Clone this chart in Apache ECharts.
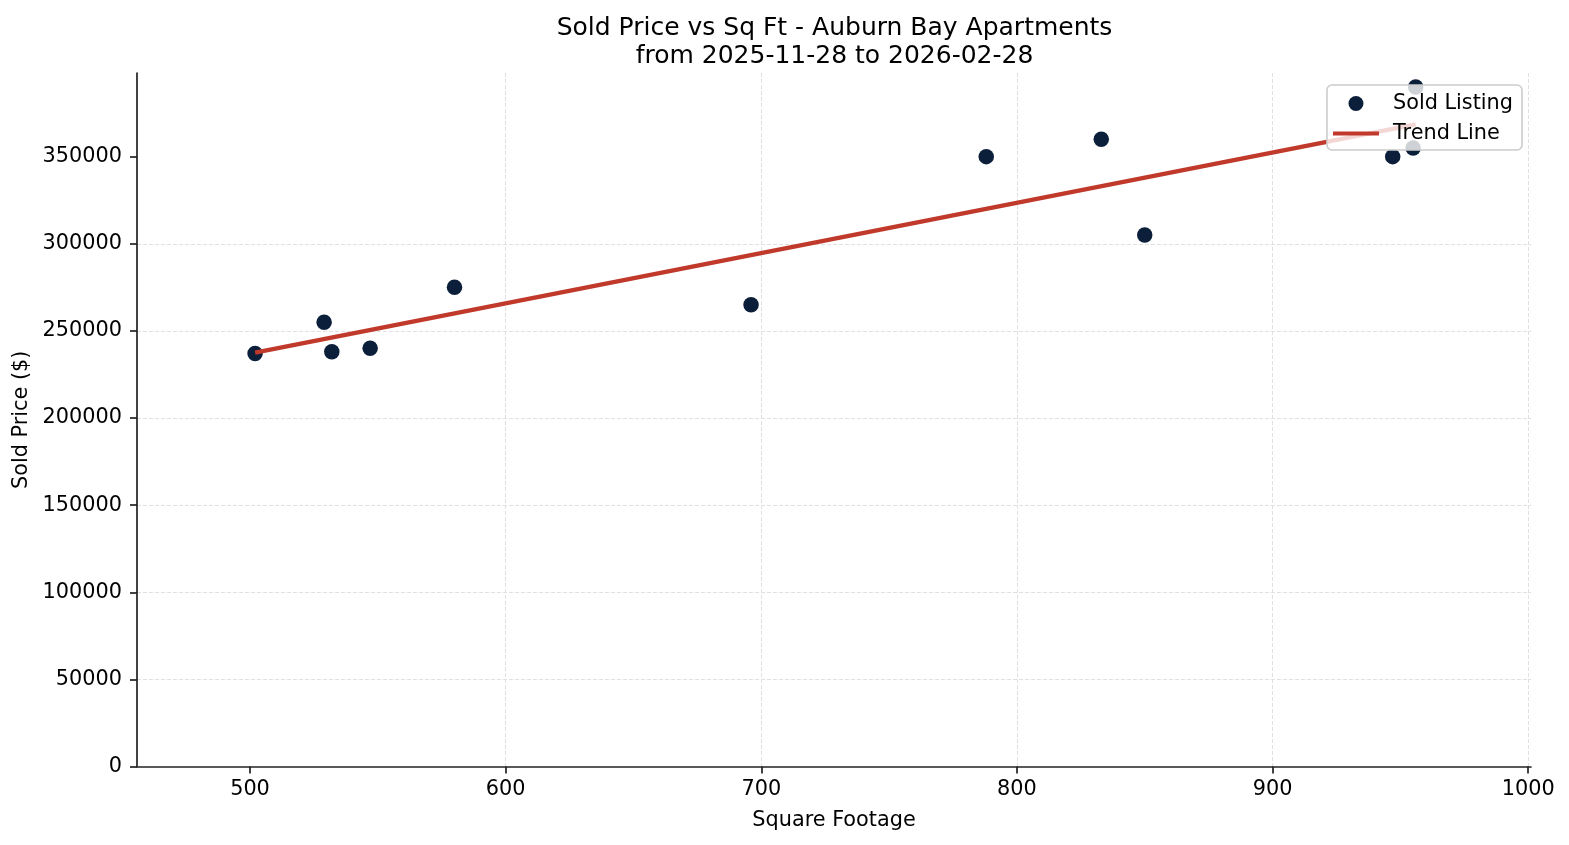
<!DOCTYPE html>
<html>
<head>
<meta charset="utf-8">
<title>Sold Price vs Sq Ft - Auburn Bay Apartments</title>
<script src="https://cdn.jsdelivr.net/npm/echarts@6/dist/echarts.min.js"></script>
<style>
  html, body { margin: 0; padding: 0; background: #fff; }
  #chart { width: 1569px; height: 845px; }
</style>
</head>
<body>
<div id="chart"></div>
<script>
// values
const sqft = [502, 529, 532, 547, 580, 696, 788, 833, 850, 947, 955, 956];
const price = [237000, 255000, 238000, 240000, 275000, 265000, 350000, 360000, 305000, 350000, 355000, 390000];

const trendSqft = [502, 956];
const trendPrice = [237500, 368500];

const xTicks = [500, 600, 700, 800, 900, 1000];
const yTicks = [0, 50000, 100000, 150000, 200000, 250000, 300000, 350000];

const FONT = 'DejaVu Sans';
const AXIS_COLOR = '#222';
const DOT_COLOR = '#0b1f3a';
const TREND_COLOR = '#c0392b';

const chart = echarts.init(document.getElementById('chart'), null, { renderer: 'canvas' });

const axisCommon = {
  type: 'value',
  nameLocation: 'middle',
  nameTextStyle: { fontFamily: FONT, fontSize: 20.8, color: '#000' },
  axisLine: { show: true, lineStyle: { color: AXIS_COLOR, width: 1.7 } },
  axisTick: { show: true, length: 7, lineStyle: { color: AXIS_COLOR, width: 1.7 } },
  splitLine: {
    show: true,
    showMinLine: false,
    lineStyle: { color: '#e0e0e0', width: 1, type: [4, 2] },
  },
};

const plain = v => String(v);

chart.setOption({
  animation: false,
  backgroundColor: '#fff',
  textStyle: { fontFamily: FONT },
  title: {
    text: 'Sold Price vs Sq Ft - Auburn Bay Apartments\nfrom 2025-11-28 to 2026-02-28',
    // centred over the plot area, not the page
    left: 834.5,
    top: 0,
    textAlign: 'center',
    padding: [14.5, 0, 0, 0],
    textStyle: {
      fontFamily: FONT,
      fontSize: 25,
      fontWeight: 'normal',
      lineHeight: 28,
      color: '#000',
    },
  },
  grid: { left: 137, right: 38, top: 73, bottom: 78.5, containLabel: false, outerBoundsMode: 'none' },
  legend: {
    right: 47,
    top: 85,
    orient: 'vertical',
    align: 'left',
    z: 10,
    itemWidth: 46,
    itemHeight: 15,
    itemGap: 9,
    padding: [8, 9, 6, 6],
    backgroundColor: 'rgba(255,255,255,0.8)',
    borderColor: '#cccccc',
    borderWidth: 1.6,
    borderRadius: 5,
    itemStyle: { borderWidth: 0 },
    textStyle: { fontFamily: FONT, fontSize: 20.8, color: '#000', padding: [0, 0, 0, 9] },
    data: [
      { name: 'Sold Listing', icon: 'circle', itemStyle: { color: DOT_COLOR, borderWidth: 0 } },
      { name: 'Trend Line', icon: 'path://M0,0H46V4H0Z', itemStyle: { color: TREND_COLOR, borderWidth: 0 } },
    ],
  },
  xAxis: {
    ...axisCommon,
    name: 'Square Footage',
    nameGap: 44,
    min: 455.8,
    max: 1001.1,
    axisTick: { ...axisCommon.axisTick, customValues: xTicks },
    axisLabel: {
      customValues: xTicks,
      formatter: plain,
      margin: 13,
      fontFamily: FONT,
      fontSize: 20.8,
      color: '#000',
    },
    splitLine: { ...axisCommon.splitLine, showMaxLine: true },
  },
  yAxis: {
    ...axisCommon,
    name: 'Sold Price ($)',
    nameGap: 85.5,
    min: 0,
    max: 398000,
    axisTick: { ...axisCommon.axisTick, customValues: yTicks },
    axisLabel: {
      customValues: yTicks,
      formatter: plain,
      margin: 15,
      fontFamily: FONT,
      fontSize: 20.8,
      color: '#000',
    },
    splitLine: { ...axisCommon.splitLine, showMaxLine: false },
  },
  series: [
    {
      name: 'Sold Listing',
      type: 'scatter',
      z: 2,
      symbol: 'circle',
      symbolSize: 15.5,
      itemStyle: { color: DOT_COLOR, opacity: 1 },
      data: sqft.map((x, i) => [x, price[i]]),
    },
    {
      name: 'Trend Line',
      type: 'line',
      z: 3,
      showSymbol: false,
      symbol: 'none',
      color: TREND_COLOR,
      itemStyle: { color: TREND_COLOR },
      lineStyle: { color: TREND_COLOR, width: 4.2, cap: 'butt' },
      data: trendSqft.map((x, i) => [x, trendPrice[i]]),
    },
  ],
});
</script>
</body>
</html>
